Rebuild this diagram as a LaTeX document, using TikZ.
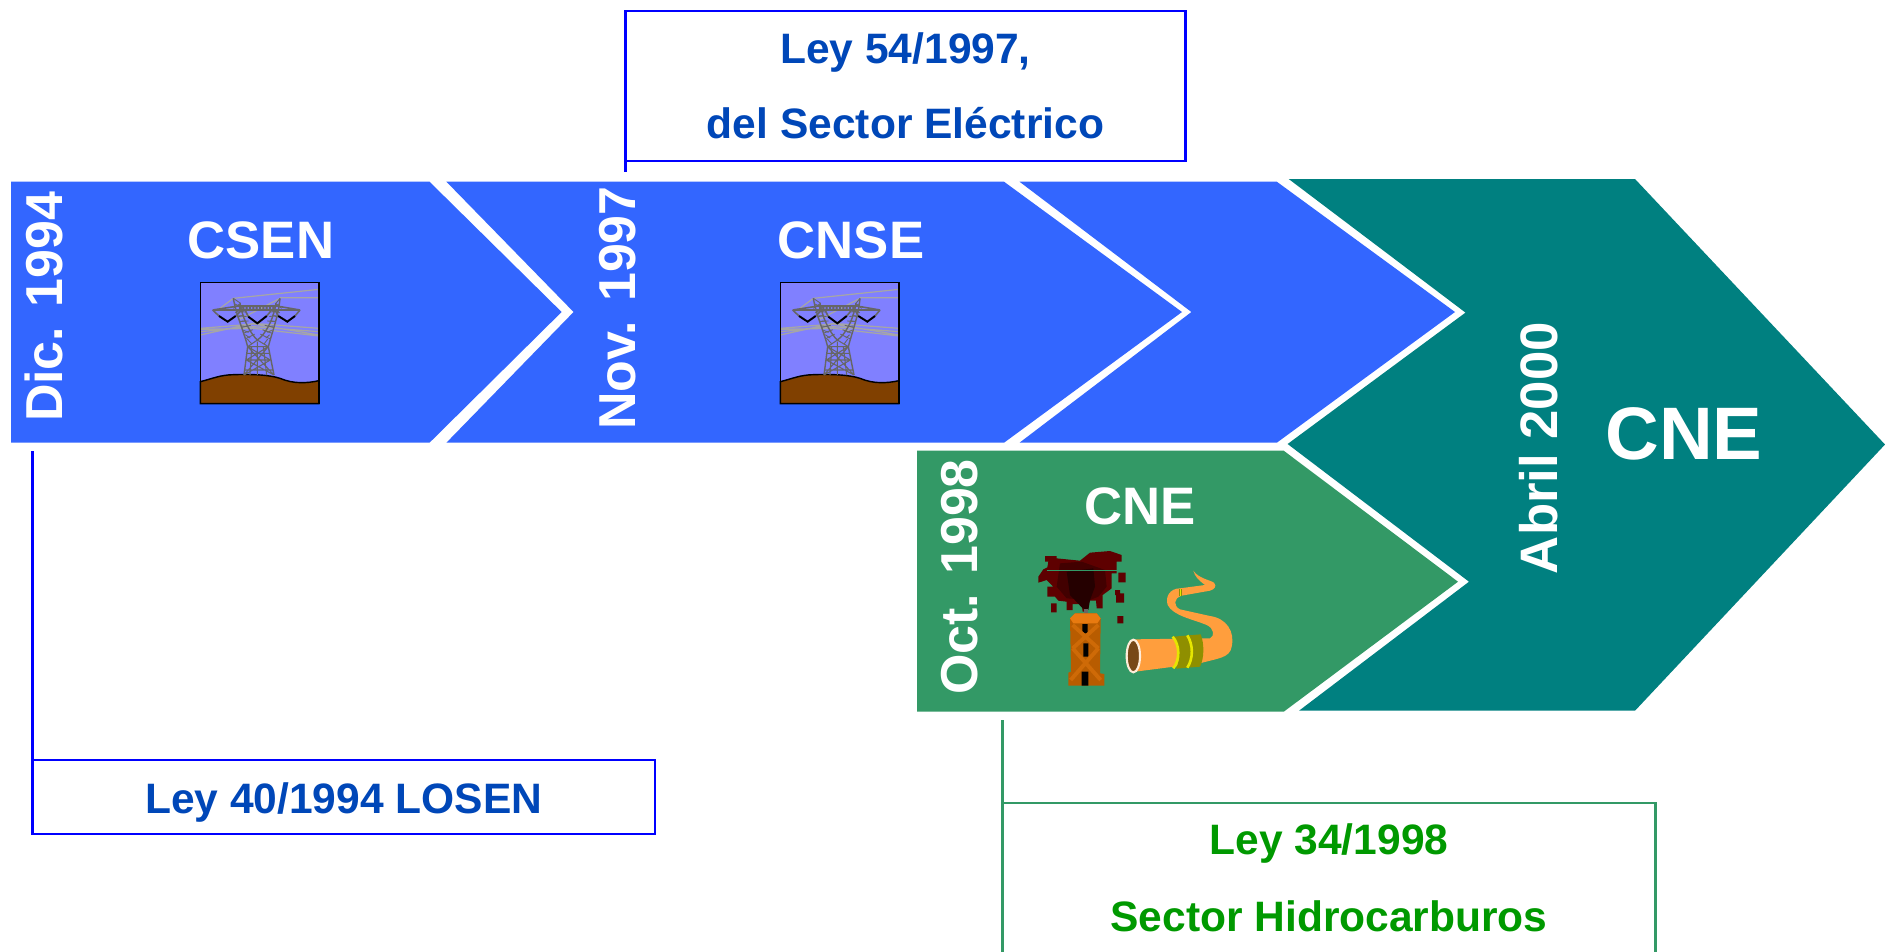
\documentclass[tikz,border=0pt]{standalone}
\usepackage{fontspec}
\setmainfont{Liberation Sans}
\definecolor{cblue}{HTML}{3366FF}
\definecolor{cteal}{HTML}{008080}
\definecolor{cgreen}{HTML}{339966}
\definecolor{boxblue}{HTML}{0000FF}
\definecolor{textblue}{HTML}{0047B8}
\definecolor{textgreen}{HTML}{009900}
\definecolor{sky}{HTML}{8080FF}
\definecolor{soil}{HTML}{804000}
\definecolor{oildark}{HTML}{5E0000}
\definecolor{oilmid}{HTML}{420000}
\definecolor{oilcore}{HTML}{250000}
\definecolor{rigbrown}{HTML}{B85C00}
\definecolor{rigorange}{HTML}{E87A10}
\definecolor{pipeor}{HTML}{FF9E3D}
\definecolor{olive}{HTML}{8F8F00}
\definecolor{ringy}{HTML}{E6E600}
\definecolor{steelc}{HTML}{666666}
\definecolor{wirec}{HTML}{A6A6A6}
\newcommand{\fs}[1]{\fontsize{\fpeval{#1*0.5683}pt}{\fpeval{#1*0.6}pt}\selectfont\bfseries}
\newcommand{\fsl}[2]{\fontsize{\fpeval{#1*0.5683}pt}{\fpeval{#2*0.5683}pt}\selectfont\bfseries}
\newcommand{\towericon}[1]{%
\begin{scope}[shift={(#1,260)},scale=1/3]
 \fill[sky] (91,68) rectangle (447,431);
 \draw[lightwire] (190,115) -- (447,88) (330,113) -- (447,113) (150,145) -- (190,115) (205,180) -- (330,115)
   (91,205) -- (250,192) -- (447,225) (91,225) -- (250,190) -- (447,205) (91,215) -- (250,200) -- (447,215) (91,208) -- (250,205) -- (447,228);
 \fill[soil,draw=black,line width=.8pt] (91,365) .. controls (130,355) and (150,345) .. (190,344) .. controls (250,342) and (300,345) .. (330,355) .. controls (370,372) and (410,370) .. (447,362) -- (447,431) -- (91,431) -- cycle;
 % cross arm
 \draw[steelline,line width=.9pt] (128,150) -- (390,150) (128,150) -- (205,138) -- (320,138) -- (390,150)
  (128,150) -- (147,168) (197,168) -- (215,150) (235,170) -- (225,150) (290,168) -- (305,150) (325,168) -- (315,150) (375,168) -- (390,150);
 \foreach \xx in {205,215,...,310} {\draw[steelline,line width=.5pt] (\xx,138) -- (\xx+10,150) (\xx+10,138) -- (\xx,150);}
 % upper legs and lower tower
 \draw[steelline,line width=.8pt]
  (190,115) .. controls (200,170) and (222,215) .. (233,260) -- (222,345)
  (210,130) .. controls (218,180) and (245,225) .. (262,240)
  (330,115) .. controls (325,170) and (305,220) .. (295,260) -- (312,345)
  (318,130) .. controls (310,180) and (285,225) .. (262,240);
 \foreach \t in {0,.12,...,.9} {
  \draw[steelline,line width=.5pt] ({190+\t*43},{115+\t*145}) -- ({212+\t*50},{130+\t*110});
  \draw[steelline,line width=.5pt] ({212+\t*40},{130+\t*145}) -- ({190+\t*50},{145+\t*110});
  \draw[steelline,line width=.5pt] ({330-\t*35},{115+\t*145}) -- ({318-\t*56},{130+\t*110});
  \draw[steelline,line width=.5pt] ({316-\t*40},{130+\t*145}) -- ({335-\t*50},{145+\t*110});
 }
 \draw[steelline,line width=.6pt]
  (233,260) -- (295,260) (229,300) -- (301,300) (225,330) -- (309,330)
  (233,260) -- (301,300) (295,260) -- (229,300) (229,300) -- (312,345) (301,300) -- (222,345)
  (229,280) -- (298,280) (233,260) -- (312,345) (295,260) -- (222,345)
  (262,245) -- (262,345) (245,260) -- (240,345) (280,260) -- (290,345) (262,240) -- (233,260) (262,240) -- (295,260);
 \draw[black,line width=1.1pt] (147,168) -- (173,185) -- (197,168) (235,170) -- (262,190) -- (290,168) (325,168) -- (352,185) -- (375,168);
 \draw[black,line width=.9pt] (91,68) rectangle (447,431);
\end{scope}}
\tikzset{
 lightwire/.style={draw=wirec,line width=.7pt},
 steelline/.style={draw=steelc},
 datetext/.style={text=white,rotate=90,inner sep=0pt},
 titletext/.style={text=white,inner sep=0pt},
 lawbox/.style={draw=boxblue,line width=1.5pt,rectangle,inner sep=0pt,outer sep=0pt,align=center,text=textblue},
 lawgreen/.style={draw=cgreen,line width=1.5pt,rectangle,inner sep=0pt,outer sep=0pt,align=center,text=textgreen},
 stemblue/.style={draw=boxblue,line width=1.5pt},
 stemgreen/.style={draw=cgreen,line width=1.5pt},
}
\begin{document}
\begin{tikzpicture}[x=0.02cm,y=-0.02cm]
\useasboundingbox (0,0) rectangle (1885,951);
\clip (0,0) rectangle (1885,951);
\fill[white] (0,0) rectangle (1885,951);

% chevrons
\fill[cteal] (1288.7,179) -- (1635,179) -- (1885,444.5) -- (1635,710.7) -- (1299,710.7) -- (1469,581.7) -- (1287.6,444) -- (1465.5,312.6) -- cycle;
\fill[cblue] (11,181.7) -- (429.5,181.7) -- (561.6,312) -- (429.5,442.7) -- (11,442.7) -- cycle;
\fill[cblue] (446.4,181.7) -- (1004,181.7) -- (1182,312) -- (1004,442.7) -- (446.4,442.7) -- (573.6,312) -- cycle;
\fill[cblue] (1019.5,181.7) -- (1276.8,181.7) -- (1455,312) -- (1276.8,442.7) -- (1019.5,442.7) -- (1191.4,312) -- cycle;
\fill[cgreen] (917,450.7) -- (1283.7,450.7) -- (1458,581.7) -- (1283.7,711.7) -- (917,711.7) -- cycle;

% icons
\towericon{170}
\towericon{750}

\begin{scope}[shift={(1010,530)},scale=1/3]
 % oil
 \fill[oildark] (105,78) -- (140,78) -- (140,85) -- (210,92) -- (240,68) -- (300,63) -- (335,75) -- (335,95) -- (320,95) -- (320,130) -- (305,130) -- (305,175) -- (278,195) -- (278,235) -- (260,235) -- (258,212) -- (238,212) -- (232,245) -- (218,245) -- (215,222) -- (188,222) -- (188,240) -- (170,240) -- (170,215) -- (145,212) -- (135,200) -- (112,200) -- (112,170) -- (130,170) -- (110,150) -- (85,158) -- (85,140) -- (100,118) -- (112,112) -- (115,95) -- (105,95) -- cycle;
 \fill[oildark] (325,128) rectangle (347,157) (315,180) rectangle (330,195) (318,190) rectangle (342,218) (123,220) rectangle (140,247) (322,258) rectangle (340,280);
 \fill[oilmid] (150,100) -- (215,95) -- (285,120) -- (290,170) -- (265,200) -- (240,210) -- (170,205) -- (140,170) -- cycle;
 \fill[oilcore] (170,125) -- (250,115) -- (255,170) -- (240,210) -- (235,240) -- (218,235) -- (180,195) -- cycle;
 \draw[cgreen,line width=.4pt] (110,120) -- (320,120);
 % rig
 \fill[black!60] (222,238) rectangle (233,256);
 \fill[rigbrown] (180,265) -- (195,250) -- (260,250) -- (272,265) -- (270,430) -- (283,432) -- (283,467) -- (175,467) -- (175,428) -- (183,425) -- cycle;
 \fill[black] (217,282) rectangle (233,310) (220,340) rectangle (235,380) (215,425) rectangle (235,467);
 \fill[rigorange] (180,265) -- (195,250) -- (260,250) -- (272,265) -- (262,280) -- (190,280) -- cycle;
 \draw[rigorange!45!rigbrown,line width=2.2pt] (188,285) -- (265,355) (265,285) -- (188,355) (188,355) -- (272,450) (265,355) -- (182,450);
 % pipe
 \fill[pipeor] (370,328) -- (600,325) .. controls (615,318) and (612,295) .. (590,285) .. controls (550,268) and (490,258) .. (473,225) .. controls (465,200) and (480,175) .. (510,175) -- (585,165) .. controls (565,150) and (555,140) .. (550,122) .. controls (565,145) and (600,150) .. (612,158) .. controls (622,170) and (612,178) .. (600,182) -- (515,197) .. controls (490,205) and (490,228) .. (510,238) -- (600,258) .. controls (650,265) and (675,305) .. (665,350) .. controls (660,385) and (620,385) .. (570,400) -- (375,425) -- cycle;
 \fill[olive] (490,320) -- (572,313) .. controls (583,340) and (583,385) .. (570,410) -- (498,416) .. controls (512,385) and (512,345) .. (490,320) -- cycle;
 \draw[ringy,line width=1.5pt] (488,320) .. controls (510,345) and (510,390) .. (490,415);
 \draw[ringy,line width=1.5pt] (532,316) .. controls (550,345) and (550,385) .. (532,413);
 \fill[olive] (508,176) rectangle (516,197);
 \draw[ringy,line width=.4pt] (510,176) -- (510,197);
 \draw[fill=black!40!brown!60!soil,draw=white!85!orange,line width=1.2pt] (370,378) ellipse [x radius=20,y radius=49];
\end{scope}

% texts on chevrons
\node[datetext,font=\fs{52}] (d1) at (43.5,307) {Dic. 1994};
\node[datetext,font=\fs{52}] (d2) at (618,308) {Nov. 1997};
\node[datetext,font=\fs{52}] (d3) at (959.5,577) {Oct. 1998};
\node[datetext,font=\fs{52.8}] (d4) at (1539,448) {Abril 2000};
\node[titletext,font=\fs{52.8}] (t1) at (261,240.5) {CSEN};
\node[titletext,font=\fs{52.8}] (t2) at (851,240.5) {CNSE};
\node[titletext,font=\fs{52.8}] (t3) at (1140,506) {CNE};
\node[titletext,font=\fs{74.5}] (t4) at (1684,434) {CNE};

% law boxes
\node[lawbox,minimum width=559.5*0.02cm,minimum height=150*0.02cm,font=\fsl{42.6}{75}] (b1) at (905.5,86) {Ley 54/1997,\\del Sector Eléctrico};
\node[lawbox,minimum width=622.5*0.02cm,minimum height=74*0.02cm,font=\fs{42.6},text depth=0pt] (b2) at (343.7,797) {\raisebox{-1.7pt}{Ley 40/1994 LOSEN}};
\node[lawgreen,minimum width=653*0.02cm,minimum height=150*0.02cm,font=\fsl{42.6}{77}] (b3) at (1329,878) {Ley 34/1998\\Sector Hidrocarburos};

\coordinate (s1) at (b1.south west |- 0,172);
\coordinate (s2) at (b2.north west |- 0,451);
\coordinate (s3) at (b3.north west |- 0,720);
\draw[stemblue] (b1.south west) -- (s1);
\draw[stemblue] (b2.north west) -- (s2);
\draw[stemgreen] (b3.north west) -- (s3);
\end{tikzpicture}
\end{document}
